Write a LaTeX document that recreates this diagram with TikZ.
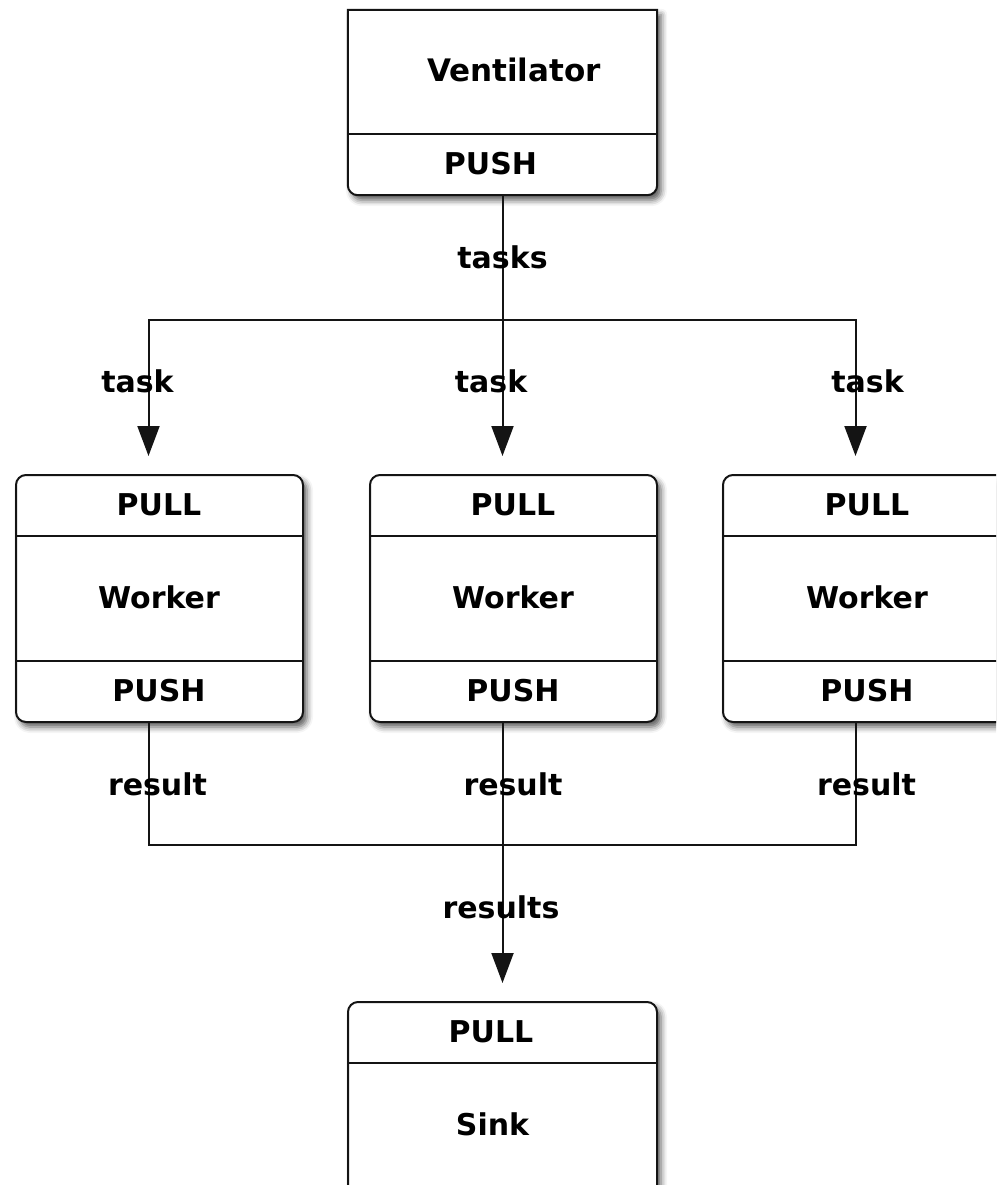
\documentclass[tikz,border=0pt]{standalone}
\usepackage{fontspec}
\setmainfont{DejaVu Sans}
\usetikzlibrary{arrows.meta,shadows.blur}
\definecolor{ink}{HTML}{141414}
\tikzset{
  boxshadow/.style={blur shadow={shadow xshift=4pt,shadow yshift=-5pt,shadow blur radius=6pt,shadow opacity=65}},
  box/.style={draw=ink,line width=2pt,fill=white,rounded corners=10pt,inner sep=0pt,boxshadow},
  wire/.style={draw=ink,line width=2pt},
  arr/.style={wire,-{Triangle[width=22pt,length=30pt]},shorten >=18pt},
  txt/.style={anchor=base,text=black,inner sep=0pt,font=\bfseries\fontsize{30}{36}\selectfont},
}
\begin{document}
\begin{tikzpicture}[x=1pt,y=-1pt]
\useasboundingbox (0,0) rectangle (996,1185);
\clip (0,0) rectangle (996,1185);

% ventilator
\node[inner sep=0pt,minimum width=309pt,minimum height=185pt] (v) at (502.5,102.5) {};
\draw[wire,fill=white,boxshadow] (v.north west) -- (v.north east)
  -- ([yshift=10pt]v.south east) arc[start angle=0,end angle=-90,radius=10pt]
  -- ([xshift=10pt]v.south west) arc[start angle=-90,end angle=-180,radius=10pt] -- cycle;
\draw[wire] (v.west |- 0,134) -- (v.east |- 0,134);
\node[txt,font=\bfseries\fontsize{31}{36}\selectfont] at (514,82) {Ventilator};
\node[txt] at (490.5,175) {PUSH};

% workers
\node[box,minimum width=287pt,minimum height=247pt] (w1) at (159.5,598.5) {};
\node[box,minimum width=287pt,minimum height=247pt] (w2) at (513.5,598.5) {};
\node[box,minimum width=287pt,minimum height=247pt] (w3) at (866.5,598.5) {};
\foreach \w/\cx in {w1/159,w2/513,w3/867}{
  \draw[wire] (\w.west |- 0,536) -- (\w.east |- 0,536);
  \draw[wire] (\w.west |- 0,661) -- (\w.east |- 0,661);
  \node[txt] at (\cx,515) {PULL};
  \node[txt] at (\cx,608) {Worker};
  \node[txt] at (\cx,701) {PUSH};
}

% sink
\node[box,minimum width=309pt,minimum height=300pt] (s) at (502.5,1152) {};
\draw[wire] (s.west |- 0,1063) -- (s.east |- 0,1063);
\node[txt] at (491,1042) {PULL};
\node[txt] at (492.5,1135) {Sink};

% connectors
\coordinate (fork) at (502,320);
\coordinate (join) at (502,845);
\draw[arr] (v.south) -- (v.south |- w2.north);
\draw[arr] (fork) -| ([xshift=-11pt]w1.north);
\draw[arr] (fork) -| ([xshift=-11pt]w3.north);
\draw[wire] ([xshift=-11pt]w1.south) |- (join);
\draw[wire] ([xshift=-11pt]w3.south) |- (join);
\draw[arr] ([xshift=-11pt]w2.south) -- ([xshift=-11pt]w2.south |- s.north);

\node[txt] at (502.5,268) {tasks};
\node[txt] at (137.5,392) {task};
\node[txt] at (491,392) {task};
\node[txt] at (867.5,392) {task};
\node[txt] at (157.5,795) {result};
\node[txt] at (513,795) {result};
\node[txt] at (866.5,795) {result};
\node[txt] at (501,918) {results};

\end{tikzpicture}
\end{document}
